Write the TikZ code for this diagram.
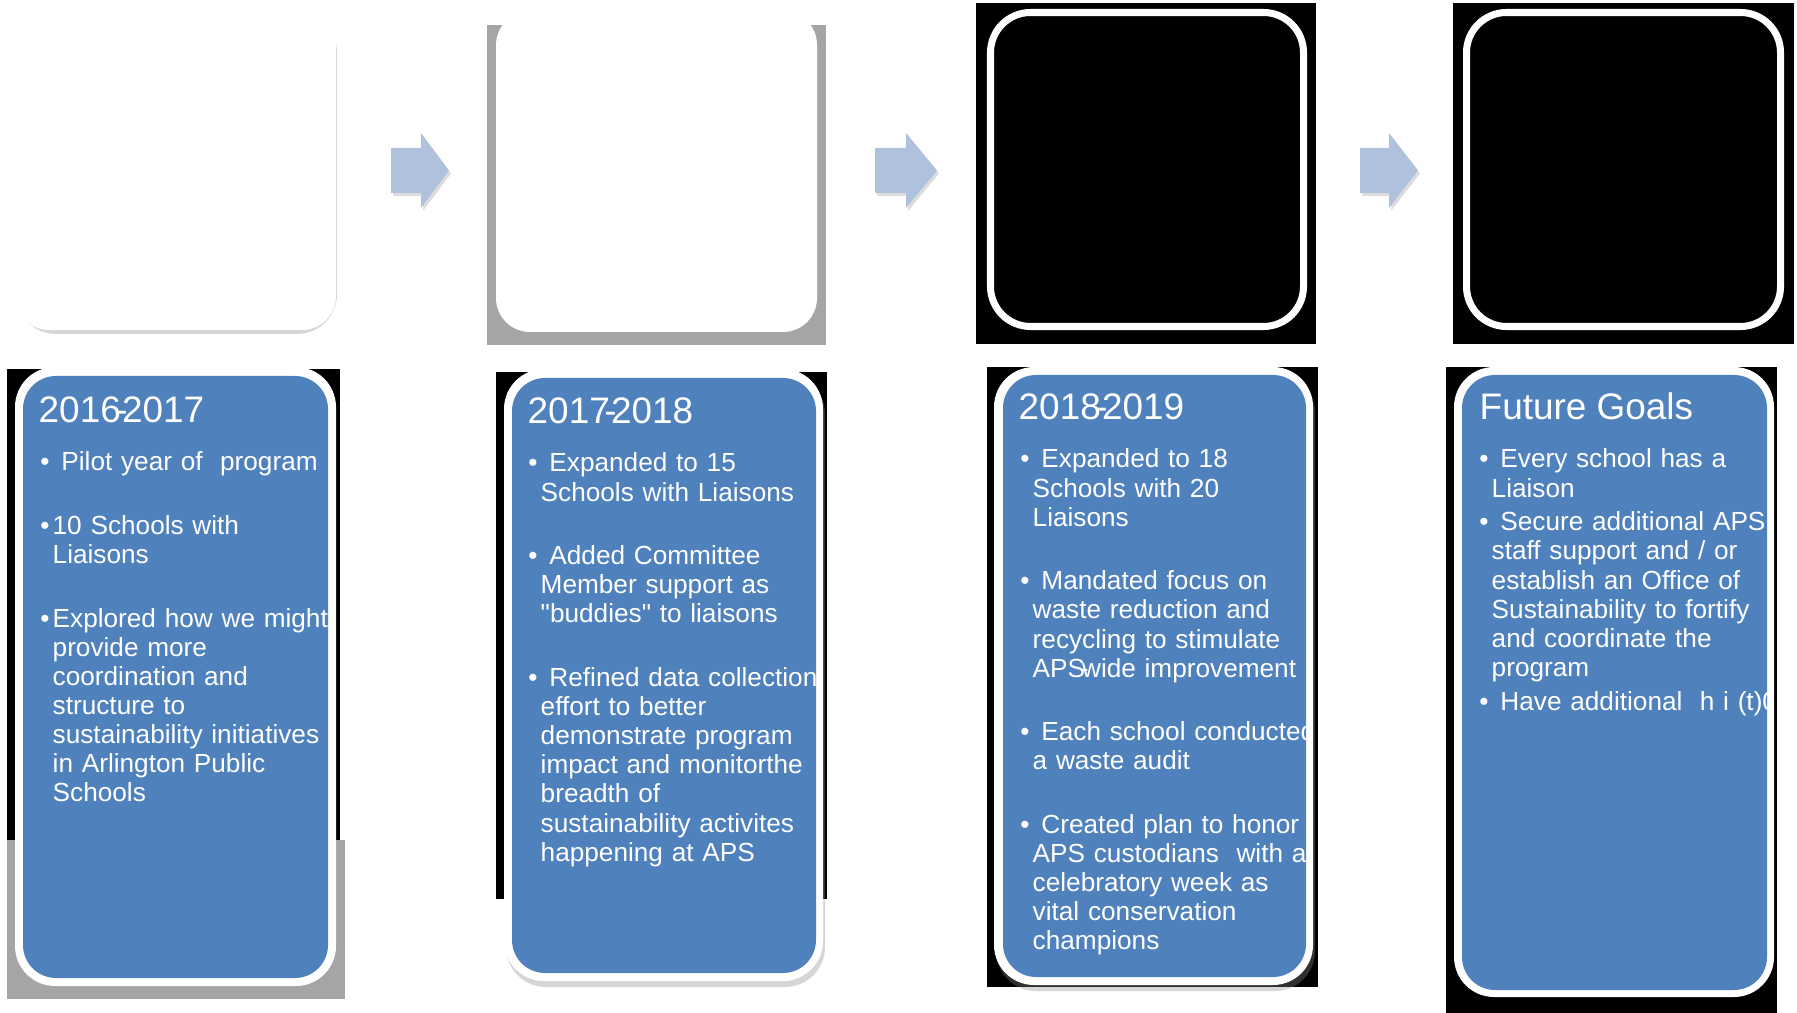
\documentclass[tikz,border=0pt]{standalone}
\usepackage{fontspec}
\setmainfont{Liberation Sans}

\definecolor{cardblue}{HTML}{4F81BD}
\definecolor{arrowblue}{HTML}{AFC1DC}
\definecolor{backgray}{HTML}{A5A5A5}
\definecolor{shadowgray}{HTML}{8A8A8A}

\newcommand{\itm}{\leavevmode\llap{\textbullet\hspace{0.9pt}}}
\newcommand{\gapline}{\\[9.8pt]}

\tikzset{
  whitecard/.style={fill=white, rounded corners=0.34cm},
  ringcard/.style={draw=white, line width=2pt, fill=black, rounded corners=0.4cm},
  outercard/.style={fill=white, rounded corners=0.4cm},
  bluecard/.style={fill=cardblue, rounded corners=0.33cm},
  cardshadow/.style={fill=shadowgray, opacity=0.35, rounded corners=0.4cm},
  cardtitle/.style={anchor=base west, inner sep=0pt, text=white,
    font=\fontsize{10.5}{12}\selectfont},
  cardtext/.style={anchor=base west, inner sep=0pt, text=white, text width=3.4cm,
    align=left, font=\fontsize{7.45}{8.28}\selectfont},
}

\begin{document}
\begin{tikzpicture}[x=0.01cm, y=-0.01cm]
      \useasboundingbox (0,0) rectangle (1797,1013);
      % top row
      \fill[cardshadow] (16,12) rectangle (337,334);
      \fill[whitecard] (15,8) rectangle (336,330);
      \fill[backgray] (487,25) rectangle (826,345);
      \fill[whitecard] (496,11) rectangle (817,332);
      \fill (976,3) rectangle (1316,344);
      \draw[ringcard] (990.5,12.5) rectangle (1303.5,326.5);
      \fill (1453,3) rectangle (1794,344);
      \draw[ringcard] (1466.5,12.5) rectangle (1780.5,326.5);
      % arrows
      \foreach \ax/\hx/\tx in {391/421/449, 875/906/937, 1360/1389/1418} {
        \fill[shadowgray, opacity=0.3] (\ax+2,151) -- (\hx+2,151) -- (\hx+2,136)
          -- (\tx+2,173.5) -- (\hx+2,211) -- (\hx+2,196) -- (\ax+2,196) -- cycle;
        \fill[arrowblue] (\ax,148) -- (\hx,148) -- (\hx,133) -- (\tx,170.5)
          -- (\hx,208) -- (\hx,193) -- (\ax,193) -- cycle;
      }
      % bottom row
      \fill (7,369) rectangle (340,840);
      \fill[backgray] (7,840) rectangle (345,999);
      \fill[outercard] (15,367) rectangle (336,986);
      \fill[bluecard] (23,376) rectangle (328,978);
      \fill (496,372) rectangle (827,899);
      \fill[cardshadow] (506,374) rectangle (825,987);
      \fill[outercard] (504,369) rectangle (823,981);
      \fill[bluecard] (512,378) rectangle (816,973);
      \fill (987,367) rectangle (1318,987);
      \fill[cardshadow] (996,372) rectangle (1315,991);
      \fill[outercard] (994,367) rectangle (1313,985);
      \fill[bluecard] (1003,375) rectangle (1306,977);
      \fill (1446,367) rectangle (1777,1013);
      \fill[outercard] (1454,367) rectangle (1774,997);
      \fill[bluecard] (1462,375) rectangle (1767,990);
      % texts
      \node[cardtitle] (head1) at (38,423) {2016\kern-.15em-\kern-.15em2017};
      \node[cardtitle] (head2) at (527,424) {2017\kern-.15em-\kern-.15em2018};
      \node[cardtitle] (head3) at (1018,420) {2018\kern-.15em-\kern-.15em2019};
      \node[cardtitle] (head4) at (1479,420) {Future Goals};
      \begin{scope}
        \clip[rounded corners=0.33cm] (23,376) rectangle (328,978);
        \node[cardtext] (items1) at (52,471) {%
          \itm\ Pilot year of\ \ program\gapline
          \itm 10 Schools with\\
          Liaisons\gapline
          \itm Explored how we might\\
          provide more\\
          coordination and\\
          structure to\\
          sustainability initiatives\\
          in Arlington Public\\
          Schools};
      \end{scope}
      \begin{scope}
        \clip[rounded corners=0.33cm] (512,378) rectangle (816,973);
        \node[cardtext] (items2) at (540,472) {%
          \itm\ Expanded to 15\\
          Schools with Liaisons\gapline
          \itm\ Added Committee\\
          Member support as\\
          \textquotedbl buddies\textquotedbl{} to liaisons\gapline
          \itm\ Refined data collection\\
          effort to better\\
          demonstrate program\\
          impact and monitorthe\\
          breadth of\\
          sustainability activites\\
          happening at APS};
      \end{scope}
      \begin{scope}
        \clip[rounded corners=0.33cm] (1003,375) rectangle (1306,977);
        \node[cardtext] (items3) at (1032,468) {%
          \itm\ Expanded to 18\\
          Schools with 20\\
          Liaisons\gapline
          \itm\ Mandated focus on\\
          waste reduction and\\
          recycling to stimulate\\
          APS\kern-.2em-\kern-.25em wide improvement\gapline
          \itm\ Each school conducted\\
          a waste audit\gapline
          \itm\ Created plan to honor\\
          APS custodians\ \ with a\\
          celebratory week as\\
          vital conservation\\
          champions};
      \end{scope}
      \begin{scope}
        \clip[rounded corners=0.33cm] (1462,375) rectangle (1772,990);
        \node[cardtext] (items4) at (1491,468) {%
          \itm\ Every school has a\\
          Liaison\\[1.3pt]
          \itm\ Secure additional APS\\
          staff support and / or\\
          establish an Office of\\
          Sustainability to fortify\\
          and coordinate the\\
          program\\[1.3pt]
          \itm\ Have additional\ \ h i (t)0};
      \end{scope}
    \end{tikzpicture}
\end{document}
